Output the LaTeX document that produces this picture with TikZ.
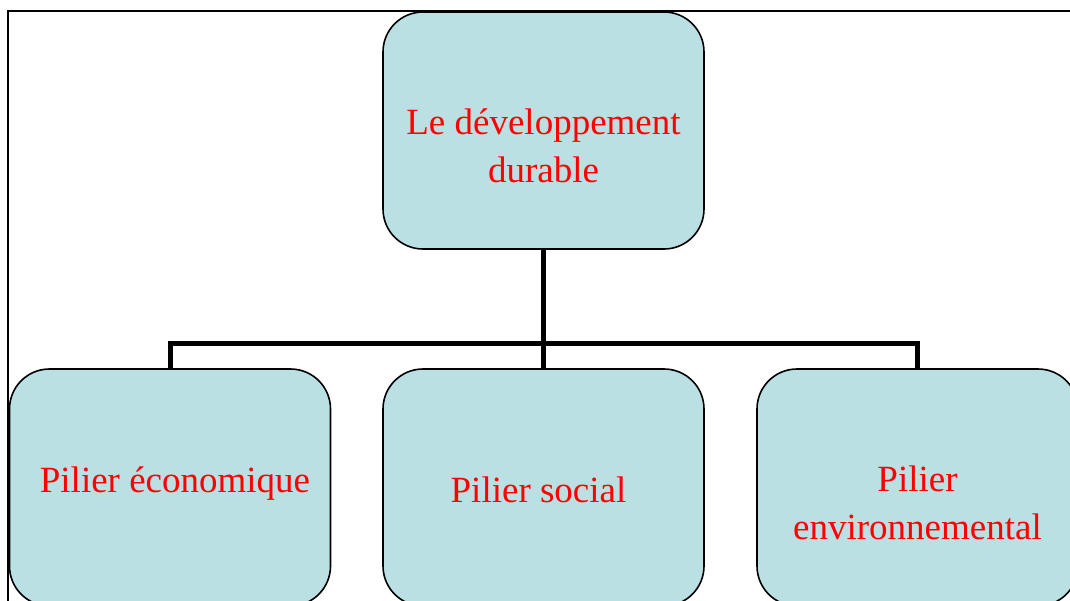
\documentclass[tikz,border=0pt]{standalone}
\usepackage{fontspec}
\setmainfont{Liberation Serif}
\definecolor{boxfill}{HTML}{BBE0E3}
\begin{document}
\begin{tikzpicture}[x=1pt,y=-1pt,
  pbox/.style={draw=black, line width=1.6pt, fill=boxfill, rounded corners=40pt,
    minimum width=321pt, minimum height=237pt, inner sep=0pt},
  ptext/.style={align=center, inner sep=0pt, text=red, font=\fontsize{37}{48}\selectfont},
  conn/.style={line width=5pt}]
\useasboundingbox (0,0) rectangle (1070,600);
\clip (0,0) rectangle (1070,600);
\draw[line width=2.5pt] (8,11) rectangle (1090,620);
\node[pbox] (top) at (543.5,130.5) {};
\node[pbox] (left) at (170,487.5) {};
\node[pbox] (mid) at (543.5,487.5) {};
\node[pbox] (right) at (917.5,487.5) {};
\node[ptext, yshift=-15pt] (toptext) at (top.center) {Le développement\\durable};
\node[ptext, xshift=5pt, yshift=4pt] (lefttext) at (left.center) {Pilier économique};
\node[ptext, xshift=-5pt, yshift=-2pt] (midtext) at (mid.center) {Pilier social};
\node[ptext, yshift=-15pt] (righttext) at (right.center) {Pilier\\environnemental};
\draw[conn] (top.south) -- (mid.north);
\draw[conn] (left.north) -- ++(0,-25) -| (right.north);
\end{tikzpicture}
\end{document}
